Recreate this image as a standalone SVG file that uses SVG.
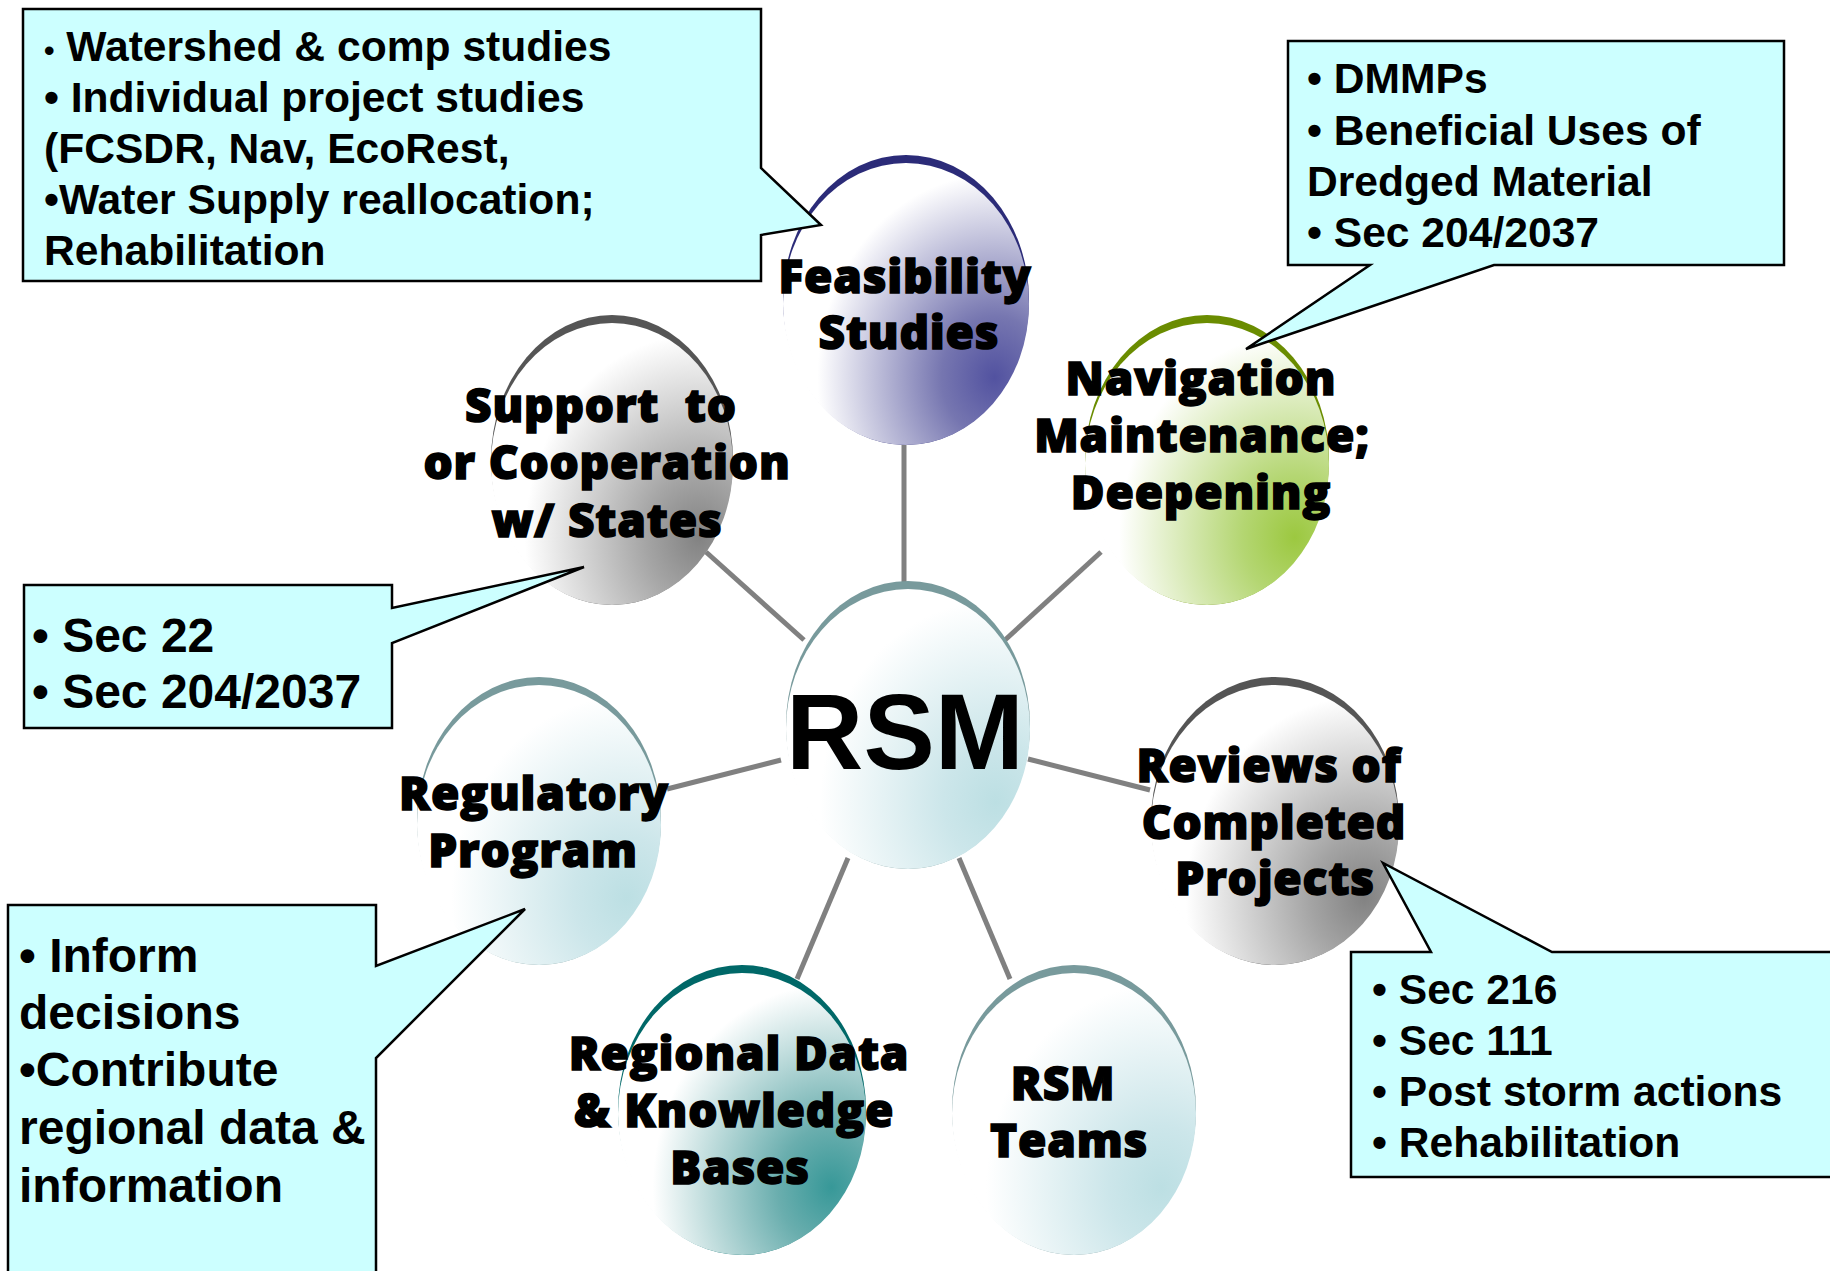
<svg xmlns="http://www.w3.org/2000/svg" width="1830" height="1271" viewBox="0 0 1830 1271">
<defs>
<radialGradient id="gPurple" cx="0.86" cy="0.76" r="0.72"><stop offset="0" stop-color="#5252a0"/><stop offset="0.3" stop-color="#7676b0"/><stop offset="1" stop-color="#ffffff"/></radialGradient>
<radialGradient id="gGreen" cx="0.86" cy="0.76" r="0.72"><stop offset="0" stop-color="#9cc840"/><stop offset="0.3" stop-color="#b4d672"/><stop offset="1" stop-color="#ffffff"/></radialGradient>
<radialGradient id="gTeal" cx="0.86" cy="0.76" r="0.72"><stop offset="0" stop-color="#379898"/><stop offset="0.3" stop-color="#6aaeae"/><stop offset="1" stop-color="#ffffff"/></radialGradient>
<radialGradient id="gGrey" cx="0.86" cy="0.76" r="0.72"><stop offset="0" stop-color="#828282"/><stop offset="0.3" stop-color="#a4a4a4"/><stop offset="1" stop-color="#ffffff"/></radialGradient>
<radialGradient id="gLight" cx="0.86" cy="0.76" r="0.72"><stop offset="0" stop-color="#bcdfe3"/><stop offset="0.3" stop-color="#cce6ea"/><stop offset="1" stop-color="#ffffff"/></radialGradient>
</defs>
<style>
.conn{stroke:#808080;stroke-width:5;fill:none;stroke-linecap:butt}
.callout{fill:#ccffff;stroke:#000;stroke-width:2.5}
.ct{font-family:"Liberation Sans",Arial,sans-serif;font-weight:bold;fill:#000}
.c42{font-size:42.6px}
.c48{font-size:48px}
.lbl{font-family:"Open Sans","Noto Sans",sans-serif;font-weight:800;font-size:46px;letter-spacing:0.8px;fill:#000;stroke:#000;stroke-width:1.5;text-anchor:middle}
.rsm{font-family:"Liberation Sans",Arial,sans-serif;font-weight:bold;font-size:107px;fill:#000;text-anchor:middle}
</style>
<rect width="1830" height="1271" fill="#ffffff"/>
<g id="connectors">
<line class="conn" x1="904" y1="445" x2="904" y2="583"/>
<line class="conn" x1="1101" y1="552" x2="1005" y2="640"/>
<line class="conn" x1="706" y1="552" x2="804" y2="640"/>
<line class="conn" x1="667" y1="789" x2="781" y2="760"/>
<line class="conn" x1="1028" y1="759" x2="1150" y2="790"/>
<line class="conn" x1="848" y1="858" x2="797" y2="979"/>
<line class="conn" x1="959" y1="858" x2="1010" y2="979"/>
</g>
<g id="node-feasibility">
<ellipse cx="906" cy="300" rx="123" ry="145" fill="#2b2b78"/>
<ellipse cx="906" cy="304" rx="123" ry="141" fill="url(#gPurple)"/>
<text class="lbl" x="905" y="293">Feasibility</text>
<text class="lbl" x="909" y="349">Studies</text>
</g>
<g id="node-navigation">
<ellipse cx="1207" cy="460" rx="122" ry="145" fill="#6a8c00"/>
<ellipse cx="1207" cy="464" rx="122" ry="141" fill="url(#gGreen)"/>
<text class="lbl" x="1201" y="395">Navigation</text>
<text class="lbl" x="1202" y="452">Maintenance;</text>
<text class="lbl" x="1201" y="509">Deepening</text>
</g>
<g id="node-support">
<ellipse cx="612" cy="460" rx="121" ry="145" fill="#555555"/>
<ellipse cx="612" cy="464" rx="121" ry="141" fill="url(#gGrey)"/>
<text class="lbl" x="601" y="422" xml:space="preserve">Support  to</text>
<text class="lbl" x="607" y="479">or Cooperation</text>
<text class="lbl" x="607" y="537">w/ States</text>
</g>
<g id="node-rsm">
<ellipse cx="908" cy="725" rx="122" ry="144" fill="#789a9c"/>
<ellipse cx="908" cy="729" rx="122" ry="140" fill="url(#gLight)"/>
<text class="rsm" x="905" y="769">RSM</text>
</g>
<g id="node-regulatory">
<ellipse cx="539" cy="821" rx="122" ry="144" fill="#789a9c"/>
<ellipse cx="539" cy="825" rx="122" ry="140" fill="url(#gLight)"/>
<text class="lbl" x="534" y="810">Regulatory</text>
<text class="lbl" x="533" y="867">Program</text>
</g>
<g id="node-regional">
<ellipse cx="742" cy="1110" rx="124" ry="145" fill="#006868"/>
<ellipse cx="742" cy="1114" rx="124" ry="141" fill="url(#gTeal)"/>
<text class="lbl" x="739" y="1070">Regional Data</text>
<text class="lbl" x="734" y="1127">&amp; Knowledge</text>
<text class="lbl" x="740" y="1184">Bases</text>
</g>
<g id="node-teams">
<ellipse cx="1074" cy="1110" rx="122" ry="145" fill="#789a9c"/>
<ellipse cx="1074" cy="1114" rx="122" ry="141" fill="url(#gLight)"/>
<text class="lbl" x="1063" y="1100">RSM</text>
<text class="lbl" x="1069" y="1157">Teams</text>
</g>
<g id="node-reviews">
<ellipse cx="1275" cy="821" rx="124" ry="144" fill="#555555"/>
<ellipse cx="1275" cy="825" rx="124" ry="140" fill="url(#gGrey)"/>
<text class="lbl" x="1269" y="782">Reviews of</text>
<text class="lbl" x="1274" y="839">Completed</text>
<text class="lbl" x="1275" y="895">Projects</text>
</g>
<g id="callout-feasibility">
<path class="callout" d="M23,9 H761 V168 L821,225 L761,235 V281 H23 Z"/>
<text class="ct c42" x="44" y="61"><tspan font-size="30">•</tspan> Watershed &amp; comp studies</text>
<text class="ct c42" x="44" y="112">• Individual project studies</text>
<text class="ct c42" x="44" y="163">(FCSDR, Nav, EcoRest,</text>
<text class="ct c42" x="44" y="214">•Water Supply reallocation;</text>
<text class="ct c42" x="44" y="265">Rehabilitation</text>
</g>
<g id="callout-navigation">
<path class="callout" d="M1288,41 H1784 V265 H1494 L1246,349 L1370,265 H1288 Z"/>
<text class="ct c42" x="1307" y="93">• DMMPs</text>
<text class="ct c42" x="1307" y="145">• Beneficial Uses of</text>
<text class="ct c42" x="1307" y="196">Dredged Material</text>
<text class="ct c42" x="1307" y="247">• Sec 204/2037</text>
</g>
<g id="callout-support">
<path class="callout" d="M24,585 H392 V608 L584,567 L392,643 V728 H24 Z"/>
<text class="ct c48" x="32" y="652">• Sec 22</text>
<text class="ct c48" x="32" y="708">• Sec 204/2037</text>
</g>
<g id="callout-regulatory">
<path class="callout" d="M8,905 H376 V966 L525,909 L376,1058 V1285 H8 Z"/>
<text class="ct c48" x="19" y="972">• Inform</text>
<text class="ct c48" x="19" y="1029">decisions</text>
<text class="ct c48" x="19" y="1086">•Contribute</text>
<text class="ct c48" x="19" y="1144">regional data &amp;</text>
<text class="ct c48" x="19" y="1202">information</text>
</g>
<g id="callout-reviews">
<path class="callout" d="M1351,952 H1431 L1383,863 L1552,952 H1845 V1177 H1351 Z"/>
<text class="ct c42" x="1372" y="1004">• Sec 216</text>
<text class="ct c42" x="1372" y="1055">• Sec 111</text>
<text class="ct c42" x="1372" y="1106">• Post storm actions</text>
<text class="ct c42" x="1372" y="1157">• Rehabilitation</text>
</g>
</svg>
